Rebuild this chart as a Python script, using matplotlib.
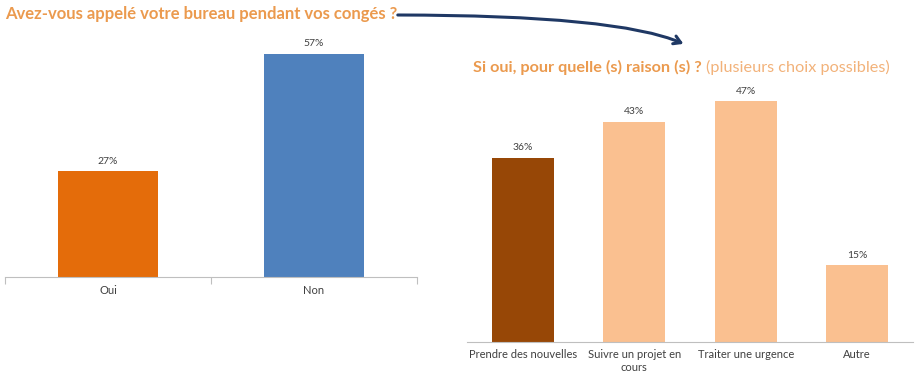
import matplotlib
matplotlib.use("Agg")
import matplotlib.pyplot as plt
from matplotlib.patches import FancyArrowPatch

plt.rcParams['font.family'] = ['Lato', 'DejaVu Sans']

# Data
q1_categories = ["Oui", "Non"]
q1_values = [27, 57]
q1_colors = ["#E46C0A", "#4F81BD"]

q2_categories = ["Prendre des nouvelles", "Suivre un projet en\ncours", "Traiter une urgence", "Autre"]
q2_values = [36, 43, 47, 15]
q2_colors = ["#974706", "#FAC090", "#FAC090", "#FAC090"]

W, H = 919, 378
fig = plt.figure(figsize=(W / 100, H / 100), dpi=100)
text_col = "#404040"
axis_col = "#BFBFBF"
title_col = "#EB9A4E"


def px_axes(x0, x1, ybot, ytop):
    return fig.add_axes([x0 / W, (H - ybot) / H, (x1 - x0) / W, (ybot - ytop) / H])


def style(ax):
    for s in ['top', 'right', 'left']:
        ax.spines[s].set_visible(False)
    ax.spines['bottom'].set_color(axis_col)
    ax.set_yticks([])
    ax.tick_params(axis='x', colors=axis_col, labelcolor=text_col, labelsize=8)


# left chart
ax1 = px_axes(5, 417, 277, 42)
ax1.bar(range(len(q1_values)), q1_values, width=0.49, color=q1_colors)
ax1.set_xlim(-0.5, 1.5)
ax1.set_ylim(0, 60)
style(ax1)
ax1.set_xticks([-0.5, 0.5, 1.5], minor=False)
ax1.set_xticklabels([])
ax1.set_xticks(range(len(q1_categories)), minor=True)
ax1.set_xticklabels(q1_categories, minor=True)
ax1.tick_params(axis='x', which='major', length=5, direction='out', color=axis_col)
ax1.tick_params(axis='x', which='minor', length=0, labelsize=8, labelcolor=text_col, pad=6)
for i, v in enumerate(q1_values):
    ax1.annotate(f"{v}%", (i, v), xytext=(0, 4), textcoords='offset points',
                 ha='center', va='bottom', fontsize=7.5, color=text_col)

# right chart
ax2 = px_axes(467, 913, 342, 86)
ax2.bar(range(len(q2_values)), q2_values, width=0.56, color=q2_colors)
ax2.set_xlim(-0.5, 3.5)
ax2.set_ylim(0, 50)
style(ax2)
ax2.set_xticks(range(len(q2_categories)))
ax2.set_xticklabels(q2_categories, va='top')
ax2.tick_params(axis='x', length=0, pad=5, labelsize=8)
for i, v in enumerate(q2_values):
    ax2.annotate(f"{v}%", (i, v), xytext=(0, 4), textcoords='offset points',
                 ha='center', va='bottom', fontsize=7.5, color=text_col)

# titles
fig.text(5 / W, 1 - 14 / H, "Avez-vous appelé votre bureau pendant vos congés ?",
         ha='left', va='center', fontsize=12, fontweight='bold', color=title_col)
t = fig.text(473 / W, 1 - 67 / H, "Si oui, pour quelle (s) raison (s) ?",
             ha='left', va='center', fontsize=11.7, fontweight='bold', color=title_col)
fig.canvas.draw()
bb = t.get_window_extent()
fig.text(bb.x1 / W + 4 / W, 1 - 67 / H, "(plusieurs choix possibles)",
         ha='left', va='center', fontsize=11.7, color="#F2B27A")

# curved arrow
arrow = FancyArrowPatch((395 / W, 1 - 15 / H), (686 / W, 1 - 45 / H),
                        transform=fig.transFigure,
                        connectionstyle="angle3,angleA=0,angleB=-25",
                        arrowstyle="->,head_length=5,head_width=3", color="#1F3864",
                        linewidth=2.2)
fig.patches.append(arrow)

fig.savefig("out.png", dpi=100)
